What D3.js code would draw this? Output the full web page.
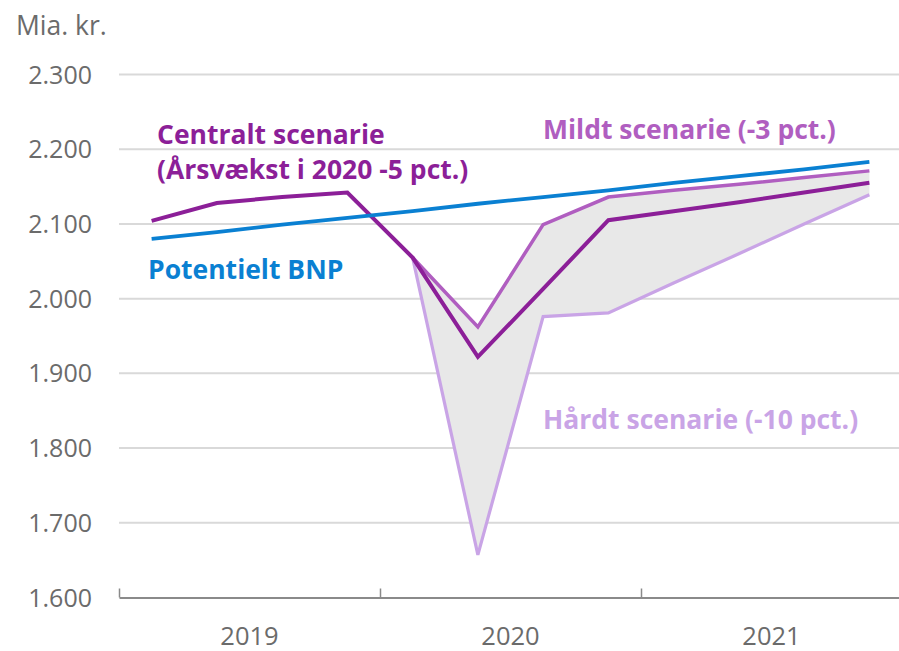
<!DOCTYPE html>
<html>
<head>
<meta charset="utf-8">
<script src="https://cdn.jsdelivr.net/npm/d3@7"></script>
<style>
  body { margin: 0; background: #fff; }
  svg text { font-family: "Open Sans", "Noto Sans", sans-serif; }
</style>
</head>
<body>
<svg id="chart" width="899" height="651"></svg>
<script>
// quarters 2019 Q1 .. 2021 Q4 (mid-quarter positions)
var quarters = ["2019K1", "2019K2", "2019K3", "2019K4",
                "2020K1", "2020K2", "2020K3", "2020K4",
                "2021K1", "2021K2", "2021K3", "2021K4"];

// Mia. kr.
var central   = [2104, 2128, 2136, 2142, 2055, 1922, 2013, 2105, 2117, 2129, 2142, 2155];
var potential = [2080, 2089, 2099, 2108, 2117, 2127, 2136, 2145, 2155, 2164, 2173, 2183];
// scenarios begin at 2020 K1
var mild = [null, null, null, null, 2055, 1962, 2099, 2136, 2145, 2153, 2162, 2171];
var hard = [null, null, null, null, 2055, 1657, 1976, 1981, 2021, 2060, 2100, 2139];

var yTicks = [1600, 1700, 1800, 1900, 2000, 2100, 2200, 2300];
var years = [2019, 2020, 2021];

var width = 899, height = 651;
var svg = d3.select("#chart");

var x = d3.scaleLinear().domain([2019, 2022]).range([119, 902]);
var y = d3.scaleLinear().domain([1600, 2300]).range([597.5, 74.5]);

// quarter index -> decimal year at the middle of the quarter
function qx(i) {
    var yr = +quarters[i].slice(0, 4), q = +quarters[i].slice(5);
    return x(yr + (q - 0.5) / 4);
}

var fmt = function(v) { return d3.format(",")(v).replace(",", "."); };

// gridlines
svg.append("g").selectAll("line")
    .data(yTicks.slice(1))
    .enter().append("line")
    .attr("x1", 119).attr("x2", width)
    .attr("y1", function(d) { return y(d); })
    .attr("y2", function(d) { return y(d); })
    .attr("stroke", "#d9d9d9")
    .attr("stroke-width", 2);

// y labels
svg.append("g").selectAll("text")
    .data(yTicks)
    .enter().append("text")
    .attr("x", 92)
    .attr("y", function(d) { return y(d); })
    .attr("dy", "0.36em")
    .attr("text-anchor", "end")
    .attr("font-size", 25)
    .attr("fill", "#6b6b6b")
    .text(fmt);

svg.append("text")
    .attr("x", 16).attr("y", 35)
    .attr("font-size", 26.5)
    .attr("fill", "#6b6b6b")
    .text("Mia. kr.");

// x axis
var xAxis = d3.axisBottom(x)
    .tickValues([2019, 2020, 2021])
    .tickSize(-9)
    .tickSizeOuter(0)
    .tickFormat("");

svg.append("g")
    .attr("transform", "translate(0," + y(1600) + ")")
    .call(xAxis)
    .call(function(g) {
        g.select(".domain").attr("stroke", "#8a8a8a").attr("stroke-width", 2);
        g.selectAll(".tick line").attr("stroke", "#8a8a8a").attr("stroke-width", 1.5);
    });

svg.append("g").selectAll("text")
    .data(years)
    .enter().append("text")
    .attr("x", function(d) { return x(d + 0.5); })
    .attr("y", 645)
    .attr("text-anchor", "middle")
    .attr("font-size", 25.5)
    .attr("fill", "#6b6b6b")
    .text(function(d) { return d; });

// shaded band between mild and hard
var band = d3.range(4, 12);
var area = d3.area()
    .x(function(i) { return qx(i); })
    .y0(function(i) { return y(hard[i]); })
    .y1(function(i) { return y(mild[i]); });

svg.append("path")
    .datum(band)
    .attr("d", area)
    .attr("fill", "#e8e8e8");

function drawLine(values, color, w) {
    var line = d3.line()
        .defined(function(i) { return values[i] != null; })
        .x(function(i) { return qx(i); })
        .y(function(i) { return y(values[i]); });
    svg.append("path")
        .datum(d3.range(values.length))
        .attr("d", line)
        .attr("fill", "none")
        .attr("stroke", color)
        .attr("stroke-width", w)
        .attr("stroke-linejoin", "miter");
}

drawLine(hard, "#c9a4e6", 3.2);
drawLine(mild, "#b05ec0", 3.5);
drawLine(central, "#8c1f98", 4);
drawLine(potential, "#0a80d2", 3.8);

// labels
function label(txt, lx, ly, color) {
    svg.append("text")
        .attr("x", lx).attr("y", ly)
        .attr("font-size", 26.5)
        .attr("font-weight", "bold")
        .attr("fill", color)
        .text(txt);
}
label("Centralt scenarie", 157, 144, "#8c1f98");
label("(Årsvækst i 2020 -5 pct.)", 157, 179, "#8c1f98");
label("Mildt scenarie (-3 pct.)", 543, 139, "#b05ec0");
label("Hårdt scenarie (-10 pct.)", 543, 429, "#c9a4e6");
label("Potentielt BNP", 148, 279, "#0a80d2");
</script>
</body>
</html>
